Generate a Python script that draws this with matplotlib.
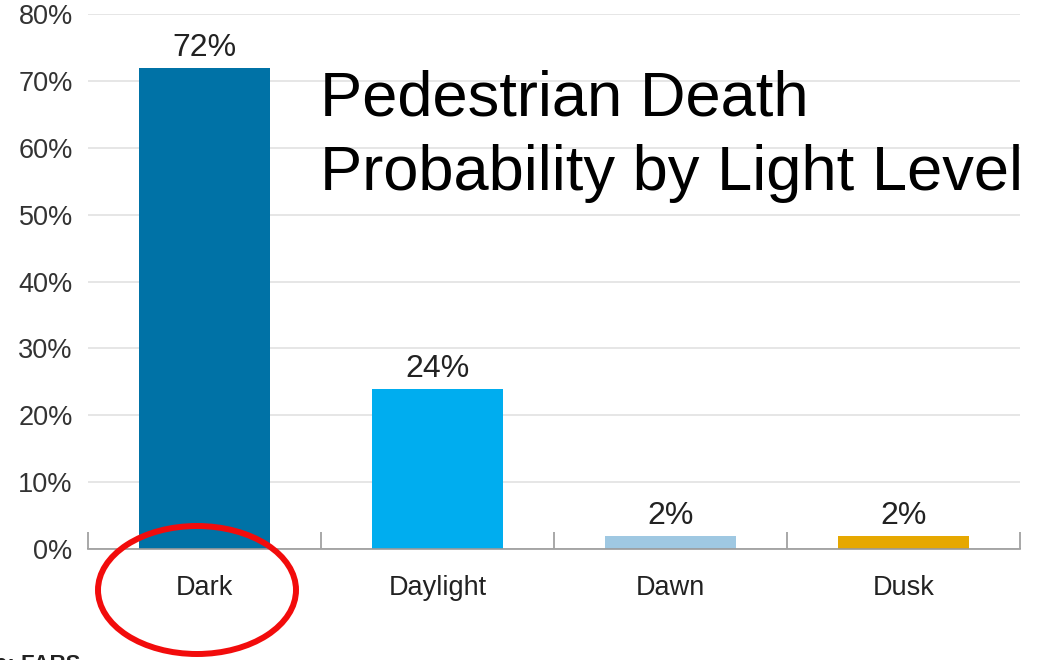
import matplotlib
matplotlib.use("Agg")
import matplotlib.pyplot as plt
from matplotlib.patches import Ellipse
import numpy as np

plt.rcParams['font.family'] = ['Liberation Sans', 'DejaVu Sans']

categories = ["Dark", "Daylight", "Dawn", "Dusk"]
shares = [72, 24, 2, 2]
bar_colors = ["#0072a6", "#00adef", "#9fc8e2", "#e6a800"]
y_ticks = [0, 10, 20, 30, 40, 50, 60, 70, 80]
title_lines = ["Pedestrian Death", "Probability by Light Level"]

fig = plt.figure(figsize=(10.38, 6.60), dpi=100)
ax = fig.add_axes([88 / 1038, 111 / 660, (1020 - 88) / 1038, (549 - 14) / 660])

x = np.arange(len(categories))
ax.bar(x, shares, width=0.56, color=bar_colors, zorder=3)
for xi, v in zip(x, shares):
    ax.annotate(f"{v}%", (xi, v), xytext=(0, 3.5), textcoords="offset points",
                ha="center", va="bottom", fontsize=23, color="#222222")

ax.set_xlim(-0.5, len(categories) - 0.5)
ax.set_ylim(0, 80)
ax.set_yticks(y_ticks)
ax.set_yticklabels([f"{t}%" for t in y_ticks], fontsize=19.5, color="#333333")
ax.yaxis.grid(True, color="#e2e2e2", linewidth=1.2, zorder=0)
ax.tick_params(axis="y", length=0, pad=11)

ax.set_xticks(x)
ax.set_xticklabels(categories, fontsize=19.5, color="#222222")
ax.tick_params(axis="x", which="major", length=0, pad=18.5)
ax.set_xticks(np.arange(-0.5, len(categories)), minor=True)
ax.tick_params(axis="x", which="minor", direction="in", length=12, color="#999999", width=1.2)

for side in ["top", "right", "left"]:
    ax.spines[side].set_visible(False)
ax.spines["bottom"].set_color("#999999")
ax.spines["bottom"].set_linewidth(1.2)
ax.spines["bottom"].set_zorder(4)

for line, baseline in zip(title_lines, [115, 190]):
    fig.text(320 / 1038, 1 - baseline / 660, line, fontsize=45.5, color="black",
             ha="left", va="baseline")

# Highlight ring around the "Dark" category
ring = Ellipse((197 / 1038, 1 - 590 / 660), width=198 / 1038, height=128 / 660,
               transform=fig.transFigure, fill=False, edgecolor="#f20c0c",
               linewidth=4.3, zorder=10)
fig.add_artist(ring)

fig.text(80 / 1038, 1 - 670 / 660, "Source: FARS", fontsize=16, fontweight="bold",
         color="#222222", ha="right", va="baseline")

fig.savefig("out.png", dpi=100, facecolor="white")
